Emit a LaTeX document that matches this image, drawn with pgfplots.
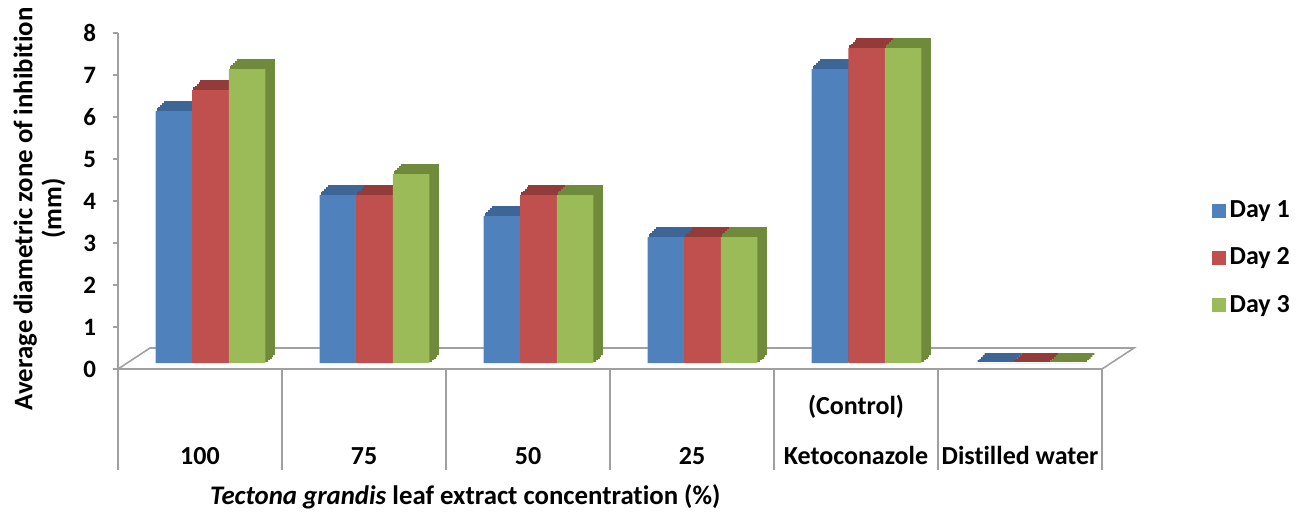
\documentclass[border=0pt]{standalone}
\usepackage{fontspec}
\setmainfont{Carlito}[Ligatures={NoCommon}]
\usepackage{pgfplots}
\usepackage{pgfplotstable}
\pgfplotsset{compat=1.18}
\definecolor{c1}{HTML}{4F81BD}
\definecolor{c2}{HTML}{C0504D}
\definecolor{c3}{HTML}{9BBB59}
\definecolor{c1d}{HTML}{3D6595}
\definecolor{c2d}{HTML}{923B39}
\definecolor{c3d}{HTML}{6E8A3A}
\definecolor{gridgray}{HTML}{A0A0A0}
\pgfplotstableread{
x d1 d2 d3
0 6 6.5 7
1 4 4 4.5
2 3.5 4 4
3 3 3 3
4 7 7.5 7.5
5 0 0 0
}\data
\begin{document}
\begin{tikzpicture}
\begin{axis}[
  scale only axis, width=492pt, height=168pt,
  xmin=-0.5, xmax=5.5, ymin=0, ymax=8,
  clip=false,
  axis x line*=bottom, axis y line*=left,
  axis line style={draw=gridgray, line width=0.8pt},
  xtick={0,1,2,3,4,5},
  major x tick style=transparent,
  xticklabels={100,75,50,25,{\begin{tabular}[b]{@{}c@{}}(Control)\\[10pt]Ketoconazole\end{tabular}},Distilled water},
  x tick label style={font=\fontsize{13}{15}\selectfont\bfseries, anchor=base, yshift=-45pt},
  ytick={0,1,...,8},
  y tick label style={font=\fontsize{12.5}{14}\selectfont\bfseries, xshift=-5pt},
  /pgf/number format/assume math mode=true,
  tick align=outside, major tick length=2.5pt,
  tick style={draw=gridgray, line width=0.8pt},
  ylabel={Average diametric zone of inhibition\\(mm)},
  ylabel style={at={(axis description cs:-0.0798,0.477)}, anchor=center, align=center, font=\fontsize{13.4}{14.5}\selectfont\bfseries},
  xlabel={\textit{Tectona grandis} leaf extract concentration (\%)},
  xlabel style={at={(axis description cs:0.353,-0.381)}, anchor=center, font=\fontsize{13.4}{15}\selectfont\bfseries},
  legend style={at={(axis description cs:1.105,0.525)}, anchor=north west, draw=none, fill=none,
    font=\fontsize{13}{15}\selectfont\bfseries, row sep=9.5pt},
  legend cell align=left,
  legend image code/.code={\fill[#1, yshift=-3pt] (0pt,-3.5pt) rectangle (7pt,3.5pt);},
  bar width=0.2226,
]
% floor
\draw[gridgray, line width=0.8pt] (axis cs:-0.5,0) -- (axis cs:-0.305,0.5) -- (axis cs:5.695,0.5) -- (axis cs:5.5,0);
\pgfplotsinvokeforeach{-0.5,0.5,1.5,2.5,3.5,4.5,5.5}{
  \draw[gridgray, line width=0.8pt] (axis cs:#1,0) -- ([yshift=-50.5pt]axis cs:#1,0);
}
% Day 1
\pgfplotsinvokeforeach{1,2,3,4,5}{
  \addplot[ybar, bar shift=-0.1586, fill=c1d, draw=c1d, line width=0.9pt, xshift={#1*0.9pt}, yshift={3pt+#1*0.9pt}, forget plot] table[x=x,y=d1]{\data};
}
\addplot[ybar, bar shift=-0.1586, fill=c1, draw=none, yshift=3pt] table[x=x,y=d1]{\data};
\addlegendentry{Day 1}
% Day 2
\pgfplotsinvokeforeach{1,2,3,4,5}{
  \addplot[ybar, bar shift=0.064, fill=c2d, draw=c2d, line width=0.9pt, xshift={#1*0.9pt}, yshift={3pt+#1*0.9pt}, forget plot] table[x=x,y=d2]{\data};
}
\addplot[ybar, bar shift=0.064, fill=c2, draw=none, yshift=3pt] table[x=x,y=d2]{\data};
\addlegendentry{Day 2}
% Day 3
\pgfplotsinvokeforeach{1,2,3,4,5}{
  \addplot[ybar, bar shift=0.2866, fill=c3d, draw=c3d, line width=0.9pt, xshift={#1*0.9pt}, yshift={3pt+#1*0.9pt}, forget plot] table[x=x,y=d3]{\data};
}
\addplot[ybar, bar shift=0.2866, fill=c3, draw=none, yshift=3pt] table[x=x,y=d3]{\data};
\addlegendentry{Day 3}
\end{axis}
\pgfresetboundingbox
\path[use as bounding box] (-59pt,-73.5pt) rectangle (595.5pt,184.5pt);
\end{tikzpicture}
\end{document}
